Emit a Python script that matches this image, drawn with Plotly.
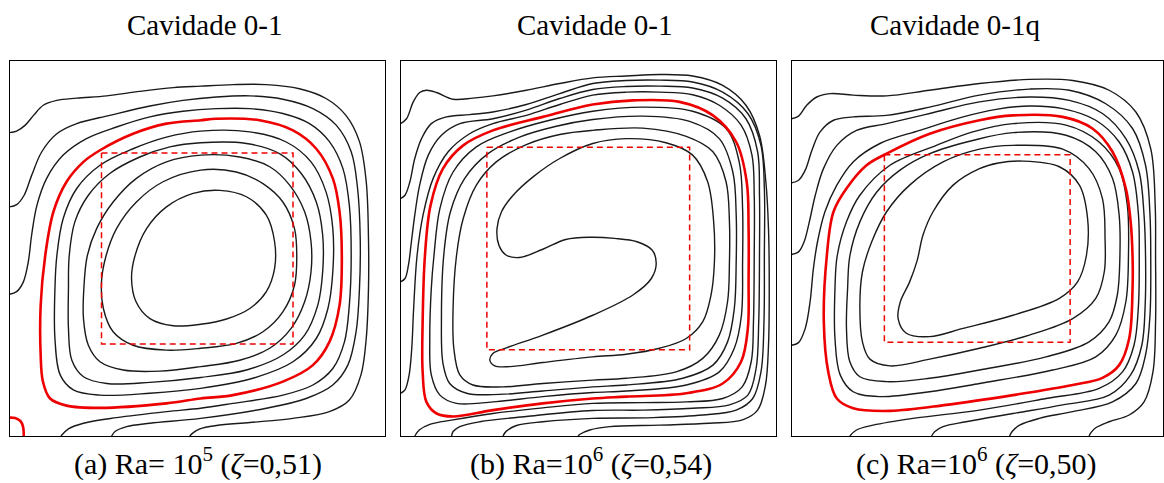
import plotly.graph_objects as go

# Cavity coordinates in percent of the side (x to the right, y upwards).
# Each list is one contour line traced around the cavity.

# ---------------- (a) Ra = 1e5, zeta = 0.51 ----------------
a_open_1 = [(0,80.9),(1.9,81.3),(4.2,82.9),(6.4,85.5),(9.0,88.2),(12.6,89.5),(17.9,90.1),(25.9,90.7),(34.7,91.9),(43.6,92.9),(50.9,93.3),(59.5,93.7),(68.4,93.7),(77.2,92.6),(84.3,90.0),(89.6,85.5),(93.2,78.5),(95.0,67.8),(95.6,52.7),(95.6,39.3),(95.0,26.0),(93.6,16.3),(90.5,9.6),(85.2,6.5),(75.5,4.7),(64.0,3.6),(55.1,2.8),(50.7,1.9),(48.7,0.7),(48.0,0)]
a_open_2 = [(0,61.1),(1.9,61.7),(3.9,64.2),(5.9,69.5),(8.6,75.8),(12.6,80.6),(17.9,83.3),(26.7,85.5),(37.4,88.0),(46.2,89.5),(55.1,90.4),(64.0,90.7),(72.8,89.8),(80.8,87.3),(87.0,82.9),(91.0,75.8),(92.7,66.0),(93.4,52.7),(93.2,39.3),(92.3,27.8),(90.1,18.9),(86.1,13.6),(79.0,10.0),(68.4,7.4),(50.9,4.7),(37.4,3.4),(31.2,2.5),(28.1,1.2),(27.2,0)]
a_open_3 = [(0,37.8),(1.9,38.5),(3.7,41.1),(5.0,46.4),(5.9,53.6),(7.3,61.5),(9.9,68.7),(14.3,74.9),(20.5,79.3),(28.5,82.4),(37.4,85.1),(46.2,86.6),(55.1,87.3),(64.0,87.3),(72.8,86.0),(79.9,83.3),(85.2,78.5),(88.8,71.3),(90.5,61.5),(91.0,48.2),(90.5,34.9),(89.2,25.1),(86.1,18.0),(80.8,13.6),(72.8,10.9),(59.5,8.7),(50.9,7.4),(41.8,6.5),(28.5,4.9),(19.7,3.4),(15.7,1.9),(13.7,0)]
a_zeta_line = [(50.9,84.2),(55.1,84.6),(66.6,84.2),(75.5,81.5),(81.7,76.6),(86.1,68.7),(87.9,59.8),(88.5,48.0),(87.9,34.9),(85.2,25.1),(80.8,18.9),(72.8,14.5),(59.5,10.9),(50.9,10.0),(41.8,8.7),(24.1,7.5),(15.2,8.1),(10.8,10.0),(8.9,14.5),(8.3,21.6),(8.3,34.9),(9.5,48.0),(11.7,59.8),(15.2,67.8),(19.7,73.1),(24.1,76.2),(32.9,80.6),(41.8,83.3)]
a_zeta_corner = [(0,4.9),(1.5,4.8),(2.9,4.0),(3.6,2.5),(3.8,0)]
a_ring_1 = [(50.9,81.3),(64.0,81.1),(73.7,78.4),(80.3,73.1),(84.3,65.1),(86.1,55.3),(86.1,43.8),(84.8,34.0),(81.7,26.0),(75.5,19.8),(64.8,15.4),(50.9,12.7),(37.4,11.4),(24.1,10.9),(17.0,12.3),(13.5,16.3),(12.1,26.0),(12.1,39.3),(12.6,48.0),(14.3,58.0),(17.9,66.0),(24.1,72.2),(32.9,76.6),(41.8,79.7)]
a_ring_2 = [(50.9,78.2),(63.1,78.0),(71.9,75.3),(77.7,70.0),(81.7,62.4),(83.4,53.6),(83.4,43.8),(82.1,34.9),(78.6,26.9),(72.8,21.6),(63.1,17.6),(50.9,15.6),(37.4,14.3),(25.9,14.0),(19.7,15.8),(16.6,20.2),(15.7,28.7),(15.7,39.3),(15.9,48.0),(17.4,57.1),(21.0,64.2),(26.7,70.0),(34.7,74.4),(42.7,77.1)]
a_ring_3 = [(50.9,74.9),(61.3,74.4),(69.3,71.8),(74.6,66.9),(78.6,59.8),(80.3,51.8),(80.3,43.8),(78.6,35.8),(75.0,28.7),(69.3,23.4),(61.3,20.2),(50.9,18.5),(40.0,17.3),(30.3,17.6),(24.1,19.8),(21.0,24.2),(19.7,31.3),(19.8,39.3),(20.7,48.0),(23.2,55.3),(27.6,62.4),(33.8,68.7),(41.8,73.1)]
a_ring_4 = [(50.9,70.9),(60.4,70.4),(67.5,67.3),(72.8,62.4),(75.9,55.3),(76.5,48.0),(75.9,40.2),(72.8,33.1),(67.5,27.8),(60.4,24.7),(50.9,23.4),(41.8,22.9),(32.9,24.2),(27.6,27.8),(25.0,34.0),(24.5,41.1),(25.7,48.0),(28.5,55.3),(33.8,62.4),(40.9,67.8)]
a_ring_5 = [(56.0,65.5),(63.1,63.8),(68.4,58.9),(70.6,51.8),(70.6,44.7),(68.4,38.5),(64.0,34.0),(57.8,31.2),(50.9,29.8),(43.6,29.4),(37.4,31.3),(33.7,35.8),(32.5,42.0),(33.4,48.0),(36.5,55.3),(41.8,61.1),(48.9,64.7)]

# ---------------- (b) Ra = 1e6, zeta = 0.54 ----------------
b_open_1 = [(0,83.3),(1.6,84.6),(3.4,89.1),(5.1,91.6),(6.9,92.2),(9.6,91.6),(14.0,89.8),(19.3,90.1),(24.6,90.7),(33.5,92.2),(42.4,94.0),(51.2,95.5),(60.1,96.0),(69.0,96.4),(77.8,96.0),(85.8,93.5),(92.0,88.2),(95.6,80.2),(97.3,67.8),(98.0,55.3),(98.2,39.3),(98.0,24.2),(97.2,13.6),(95.1,6.9),(91.1,4.3),(82.3,3.4),(69.0,2.9),(55.7,2.5),(50.4,1.6),(47.7,0.4),(47.3,0)]
b_open_2 = [(0,63.3),(1.2,64.2),(2.5,67.8),(3.8,74.0),(5.6,79.3),(8.2,83.3),(12.2,85.1),(18.4,85.7),(24.6,86.4),(33.5,88.4),(42.4,91.3),(51.2,94.0),(60.1,94.8),(69.0,94.9),(77.8,94.4),(85.8,91.7),(92.5,86.0),(96.0,77.5),(96.9,66.0),(96.9,48.0),(96.8,30.5),(96.0,17.1),(93.8,10.0),(89.4,6.9),(80.5,5.6),(67.2,4.9),(51.2,4.7),(37.9,3.8),(30.9,2.8),(28.2,1.3),(27.3,0)]
b_open_3 = [(0,41.1),(1.2,42.0),(2.1,45.5),(2.9,51.8),(3.8,58.9),(5.1,66.9),(7.4,74.9),(10.9,80.2),(15.8,83.3),(24.6,84.6),(33.5,86.9),(42.4,90.0),(51.2,92.4),(60.1,93.2),(69.0,93.3),(77.8,92.8),(85.8,90.1),(92.0,84.6),(95.1,75.8),(95.6,64.2),(95.6,48.0),(95.4,30.5),(94.7,18.0),(92.5,10.9),(87.6,8.3),(77.8,7.4),(64.5,6.9),(51.2,6.8),(33.5,5.2),(21.1,3.8),(15.8,2.5),(14.0,1.2),(13.6,0)]
b_open_4 = [(0,11.4),(1.2,12.3),(2.3,16.3),(3.0,23.4),(3.5,34.0),(4.4,48.0),(6.0,58.9),(8.7,68.7),(12.7,75.8),(18.4,80.6),(24.6,83.3),(33.5,85.5),(42.4,88.4),(51.2,90.9),(60.1,91.7),(69.0,91.7),(77.8,91.0),(84.9,88.2),(90.7,82.9),(93.6,74.9),(94.2,64.2),(94.2,48.0),(94.0,30.5),(93.4,19.8),(91.0,13.1),(85.8,10.0),(76.1,9.1),(64.5,8.9),(51.2,8.7),(37.9,7.5),(24.6,6.0),(14.0,4.3),(7.8,3.1),(5.0,1.6),(3.8,0)]
b_zeta_line = [(51.2,88.4),(61.9,89.5),(74.3,89.1),(83.2,85.5),(89.4,78.4),(92.2,67.8),(92.7,55.3),(92.7,41.1),(92.5,28.7),(90.7,19.8),(85.8,14.0),(76.1,11.4),(60.1,10.5),(51.2,10.0),(37.9,8.7),(24.6,6.9),(14.0,5.2),(9.6,6.0),(6.9,9.1),(5.9,17.1),(5.9,30.5),(6.5,48.0),(8.0,61.5),(11.3,71.3),(16.7,77.5),(24.6,81.5),(37.9,85.1)]
b_ring_1 = [(51.2,86.6),(64.5,87.7),(77.8,86.6),(86.7,82.0),(90.2,73.1),(91.1,60.7),(91.1,46.4),(90.8,32.2),(88.9,23.4),(84.9,17.1),(76.1,13.6),(60.1,12.0),(51.2,11.6),(37.9,10.5),(24.6,9.1),(14.9,8.7),(10.5,10.9),(8.2,16.3),(7.8,26.0),(8.2,39.3),(8.9,48.0),(10.5,60.7),(14.0,70.4),(20.2,77.1),(29.1,81.1),(39.7,84.2)]
b_ring_2 = [(51.2,84.4),(64.5,85.3),(77.0,83.9),(84.9,79.3),(88.5,70.4),(89.4,58.9),(89.4,46.4),(88.9,34.0),(87.1,25.1),(83.2,18.9),(75.2,15.4),(60.1,13.6),(51.2,13.1),(37.9,12.0),(26.4,11.1),(17.6,11.4),(13.1,14.0),(11.3,19.4),(10.9,30.5),(11.5,48.0),(13.3,59.8),(17.1,68.7),(23.3,75.3),(31.7,79.7),(41.5,82.6)]
b_ring_3 = [(51.2,81.5),(64.5,82.1),(76.1,79.9),(83.2,75.8),(86.7,67.8),(87.6,57.1),(87.6,46.4),(87.1,35.8),(84.9,26.9),(80.5,20.7),(73.4,17.1),(60.1,15.4),(51.2,14.9),(37.9,14.0),(27.3,13.1),(19.3,13.6),(15.8,16.3),(14.2,23.4),(14.0,34.0),(14.9,48.0),(16.7,58.0),(20.2,66.9),(25.5,73.1),(33.5,77.7),(42.4,80.4)]
b_ring_s = [(68.1,46.0),(67.0,49.6),(63.0,51.8),(57.0,52.7),(50.4,53.0),(44.0,52.4),(37.9,49.8),(31.7,47.6),(28.2,48.2),(26.2,50.9),(25.7,55.3),(26.9,59.8),(30.0,64.2),(35.3,69.1),(42.4,74.0),(51.2,78.0),(60.1,79.3),(70.7,78.2),(77.8,74.9),(81.8,67.8),(83.4,57.1),(83.6,46.4),(82.7,37.6),(80.5,30.5),(76.1,26.0),(69.0,23.4),(60.1,21.8),(51.2,21.1),(37.9,19.6),(29.1,18.5),(25.1,18.7),(23.8,20.2),(24.6,22.0),(28.2,23.5),(37.9,26.9),(51.2,32.2),(61.9,37.6),(66.8,42.0)]

# ---------------- (c) Ra = 1e6, zeta = 0.50 ----------------
c_open_1 = [(0,84.6),(1.9,85.3),(4.1,88.2),(6.8,90.4),(10.4,91.3),(16.6,90.9),(25.6,90.7),(37.2,92.2),(50.6,94.0),(64.0,95.1),(75.7,94.8),(85.5,92.2),(92.7,86.4),(96.7,76.6),(97.9,61.5),(98.0,48.0),(98.0,30.5),(97.3,17.1),(94.9,9.1),(90.9,5.6),(85.5,3.8),(81.9,2.2),(80.6,0.9),(80.1,0)]
c_open_2 = [(0,67.5),(1.9,68.2),(3.7,70.9),(5.5,76.2),(7.7,81.1),(11.3,84.2),(16.6,85.1),(25.6,85.5),(37.2,87.7),(50.6,90.9),(64.0,92.5),(74.8,92.2),(84.6,88.6),(91.8,82.0),(95.3,72.2),(96.5,58.9),(96.7,48.0),(96.5,32.2),(95.3,21.6),(92.7,14.0),(86.4,9.1),(75.7,6.5),(66.7,4.7),(61.4,2.9),(59.4,1.2),(58.7,0)]
c_open_3 = [(0,48.4),(1.9,49.1),(3.4,51.8),(4.8,57.1),(6.4,64.2),(8.6,71.3),(12.2,77.5),(17.5,81.5),(25.6,83.3),(37.2,86.0),(50.6,89.1),(64.0,90.4),(74.8,89.5),(83.7,86.0),(90.0,79.3),(93.6,70.4),(94.9,58.9),(95.3,48.0),(95.2,34.9),(94.3,24.2),(91.3,16.3),(85.5,10.9),(73.0,8.3),(59.6,6.0),(47.0,3.8),(40.8,2.5),(38.6,1.2),(37.7,0)]
c_open_4 = [(0,24.2),(1.9,24.9),(3.7,28.7),(5.0,35.8),(5.9,44.7),(7.0,51.8),(9.0,59.8),(12.2,66.9),(16.6,73.1),(23.8,78.0),(34.5,81.5),(46.2,85.1),(55.1,87.1),(64.0,88.0),(73.0,87.3),(81.9,84.2),(88.2,78.4),(91.8,70.4),(93.4,58.9),(93.6,48.0),(93.4,34.9),(92.2,24.2),(89.1,17.1),(82.8,12.7),(68.5,10.0),(50.6,6.9),(32.7,4.7),(22.0,2.9),(17.5,1.6),(15.7,0)]
c_zeta_line = [(59.6,85.5),(73.0,85.1),(81.0,82.0),(86.4,75.8),(90.0,66.0),(91.3,57.1),(91.8,48.0),(91.8,39.3),(90.9,26.0),(88.2,18.9),(83.7,15.5),(75.7,13.6),(59.6,10.9),(41.7,8.3),(26.5,6.7),(16.6,7.4),(12.2,10.0),(9.9,17.1),(8.7,30.5),(9.5,48.0),(11.3,59.8),(14.8,66.0),(20.2,72.2),(25.6,75.3),(37.2,80.6),(50.6,84.2)]
c_ring_1 = [(59.6,83.3),(73.9,82.9),(82.8,78.4),(88.2,71.3),(90.4,61.5),(90.7,48.0),(90.0,35.8),(87.3,26.9),(81.9,21.1),(70.3,17.6),(50.6,14.0),(37.2,11.8),(23.8,10.5),(16.6,11.8),(13.1,16.3),(11.7,26.0),(11.7,39.3),(12.3,48.0),(14.8,57.1),(18.4,64.2),(26.5,72.2),(39.0,77.5),(48.8,81.1)]
c_ring_2 = [(59.6,80.9),(73.9,80.2),(81.9,75.8),(86.4,68.7),(88.2,58.9),(88.4,48.0),(87.7,37.6),(85.5,30.5),(80.1,25.1),(68.5,21.1),(50.6,17.6),(37.2,15.4),(25.6,14.5),(18.4,15.8),(15.7,19.8),(14.8,28.7),(15.1,39.3),(15.7,48.0),(18.4,57.1),(22.9,65.0),(29.2,70.9),(37.2,75.3),(48.8,78.8)]
c_ring_3 = [(59.6,77.5),(73.0,76.5),(80.1,71.3),(83.7,63.3),(84.4,52.7),(84.2,43.8),(81.9,36.7),(75.7,31.3),(64.0,26.9),(50.6,23.4),(37.2,20.5),(26.5,18.7),(21.1,20.5),(19.1,25.1),(18.4,34.9),(19.1,43.8),(21.6,51.8),(25.6,59.8),(31.8,66.9),(40.8,73.1),(50.6,76.5)]
c_ring_4 = [(62.3,73.3),(72.1,71.8),(77.5,66.9),(79.7,58.0),(79.4,48.2),(77.0,41.1),(72.1,36.7),(59.6,32.2),(46.2,28.7),(37.2,26.5),(30.9,27.4),(28.7,31.3),(29.3,35.8),(31.8,41.1),(33.8,46.7),(35.4,53.6),(38.1,59.8),(43.5,66.9),(50.6,71.3),(55.7,72.8)]

titles = ["Cavidade 0-1", "Cavidade 0-1", "Cavidade 0-1q"]
labels = ["(a)", "(b)", "(c)"]
ra_exponents = [5, 6, 6]
zetas = [0.51, 0.54, 0.50]

panels = [
    dict(open=[a_open_1, a_open_2, a_open_3], rings=[a_ring_1, a_ring_2, a_ring_3, a_ring_4, a_ring_5],
         zeta=[a_zeta_line, a_zeta_corner], xdom=(9.5, 385.0), title_x=204, cap_x=198),
    dict(open=[b_open_1, b_open_2, b_open_3, b_open_4], rings=[b_ring_1, b_ring_2, b_ring_3, b_ring_s],
         zeta=[b_zeta_line], xdom=(400.5, 776.0), title_x=594, cap_x=591),
    dict(open=[c_open_1, c_open_2, c_open_3, c_open_4], rings=[c_ring_1, c_ring_2, c_ring_3, c_ring_4],
         zeta=[c_zeta_line], xdom=(791.5, 1163.0), title_x=955, cap_x=976),
]

W, H = 1164, 483
Y_TOP, Y_BOT = 61.0, 436.0
BLACK = "#1a1a1a"
RED = "#ee0000"
SERIF = "Liberation Serif"

fig = go.Figure()


def add_curve(pts, idx, color, width, closed):
    xs = [p[0] for p in pts]
    ys = [p[1] for p in pts]
    if closed:
        xs.append(xs[0])
        ys.append(ys[0])
    sfx = "" if idx == 0 else str(idx + 1)
    fig.add_trace(go.Scatter(
        x=xs, y=ys, mode="lines", xaxis="x" + sfx, yaxis="y" + sfx,
        line=dict(color=color, width=width, shape="spline", smoothing=1.0),
        hoverinfo="skip", showlegend=False))


layout = dict(
    width=W, height=H, margin=dict(l=0, r=0, t=0, b=0),
    paper_bgcolor="white", plot_bgcolor="white", showlegend=False,
    font=dict(family=SERIF, size=29, color="black"),
)

annotations = []
for i, p in enumerate(panels):
    for c in p["open"]:
        add_curve(c, i, BLACK, 1.4, False)
    for c in p["rings"]:
        add_curve(c, i, BLACK, 1.4, True)
    for k, c in enumerate(p["zeta"]):
        add_curve(c, i, RED, 2.6, k == 0)

    # dashed square of side zeta centred in the cavity
    z = zetas[i] * 100
    lo, hi = 50 - z / 2, 50 + z / 2
    sfx = "" if i == 0 else str(i + 1)
    fig.add_trace(go.Scatter(
        x=[lo, hi, hi, lo, lo], y=[hi, hi, lo, lo, hi], mode="lines",
        xaxis="x" + sfx, yaxis="y" + sfx,
        line=dict(color=RED, width=1.5, dash="6px,4px"),
        hoverinfo="skip", showlegend=False))

    x0, x1 = p["xdom"]
    ax = dict(domain=[x0 / W, x1 / W], range=[0, 100], showgrid=False, zeroline=False,
              showticklabels=False, ticks="", showline=True, linecolor="black",
              linewidth=1.2, mirror=True, fixedrange=True)
    ay = dict(domain=[1 - Y_BOT / H, 1 - Y_TOP / H], range=[0, 100], showgrid=False,
              zeroline=False, showticklabels=False, ticks="", showline=True,
              linecolor="black", linewidth=1.2, mirror=True, fixedrange=True)
    ay["anchor"] = "x" + sfx
    ax["anchor"] = "y" + sfx
    layout["xaxis" + sfx] = ax
    layout["yaxis" + sfx] = ay

    annotations.append(dict(
        text=titles[i], x=p["title_x"] / W, y=1 - 25 / H, xref="paper", yref="paper",
        showarrow=False, xanchor="center", yanchor="middle",
        font=dict(family=SERIF, size=29, color="black")))
    cap = "%s Ra=%s10<sup>%d</sup> (<i>ζ</i>=%s)" % (
        labels[i], " " if i == 0 else "", ra_exponents[i], ("%.2f" % zetas[i]).replace(".", ","))
    annotations.append(dict(
        text=cap, x=p["cap_x"] / W, y=1 - 461 / H, xref="paper", yref="paper",
        showarrow=False, xanchor="center", yanchor="middle",
        font=dict(family=SERIF, size=30, color="black")))

layout["annotations"] = annotations
fig.update_layout(**layout)
fig.write_html("out.html")
